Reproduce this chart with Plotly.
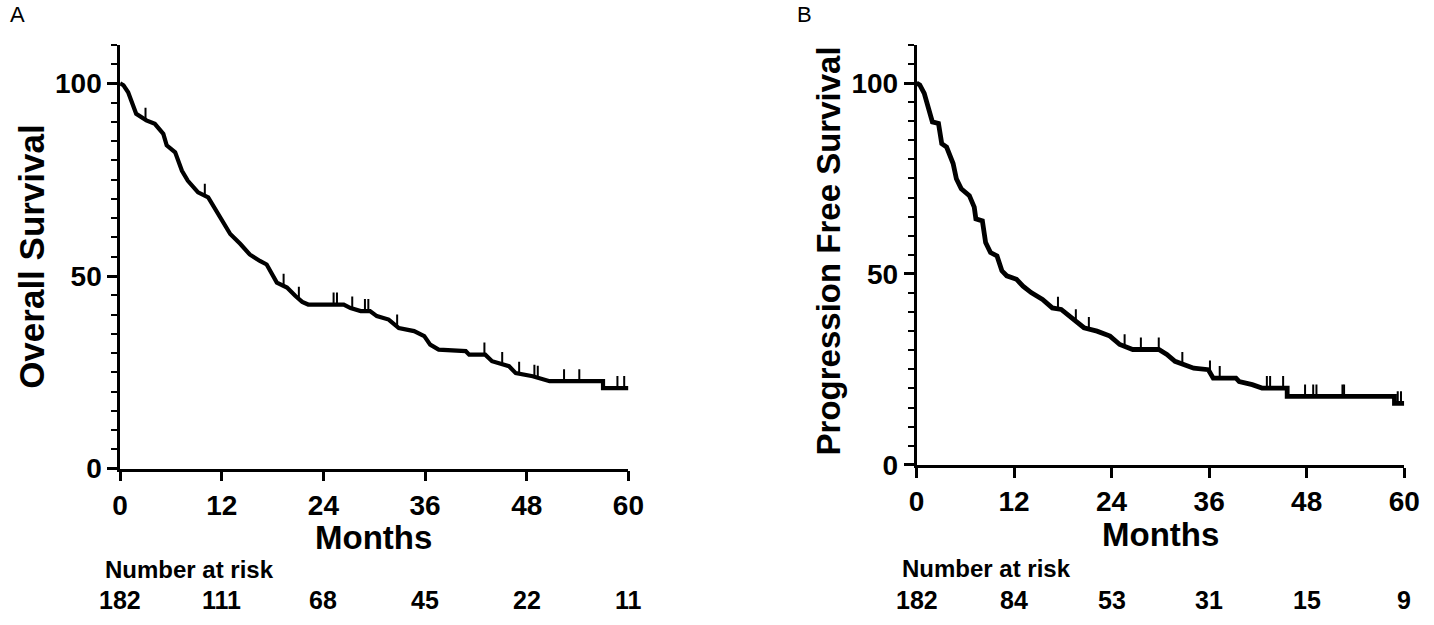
import numpy as np
import plotly.graph_objects as go

# ---------------- data ----------------
os_months = [0, 0.4, 0.95, 1.9, 3.1, 4.1, 5.1, 5.5, 6.5, 7.3, 8.0, 9.2, 10.4, 11.4, 12.4, 13.0,
             14.2, 15.3, 16.5, 17.3, 18.5, 19.7, 20.7, 21.5, 22.2, 26.4, 27.2, 28.4, 29.5, 30.3,
             31.7, 32.9, 34.7, 35.9, 36.6, 37.6, 40.8, 41.2, 43.1, 43.9, 45.9, 46.7, 48.7, 50.7,
             57.0, 57.0, 60.0]
os_surv = [100, 99.5, 97.7, 92.1, 90.4, 89.5, 86.9, 83.9, 82.1, 77.3, 74.7, 71.7, 70.4, 66.9, 63.4, 60.9,
           58.3, 55.6, 53.9, 53.0, 48.3, 47.0, 44.8, 43.3, 42.6, 42.6, 41.7, 40.9, 40.9, 39.6,
           38.7, 36.5, 35.7, 34.4, 32.2, 30.9, 30.5, 29.6, 29.6, 27.9, 26.6, 24.8, 24.0, 22.7,
           22.7, 20.9, 20.9]
os_censor = [3.0, 10.0, 19.3, 21.1, 25.2, 25.6, 27.4, 28.9, 29.3, 32.7, 43.0, 45.1, 47.1,
             48.9, 49.3, 52.4, 54.2, 58.7, 59.5]

pfs_months = [0, 0.4, 0.95, 1.35, 1.95, 2.7, 3.1, 3.7, 4.5, 4.9, 5.5, 6.5, 7.1, 7.3, 8.1, 8.5,
              9.1, 9.9, 10.5, 11.1, 12.3, 13.1, 14.1, 15.5, 16.7, 17.8, 19.2, 20.6, 22.2, 23.8,
              25.0, 26.6, 29.8, 30.8, 31.8, 32.9, 34.1, 35.9, 36.5, 39.3, 39.7, 41.3, 42.5,
              45.6, 45.6, 58.8, 58.8, 60.0]
pfs_surv = [100, 99.5, 97.3, 93.8, 89.8, 89.4, 84.1, 83.2, 78.9, 74.9, 72.3, 70.5, 67.5, 64.4, 63.9, 58.2,
            55.6, 54.7, 50.8, 49.5, 48.6, 46.8, 45.1, 43.3, 41.1, 40.7, 38.3, 35.9, 35.0, 33.7,
            31.5, 30.2, 30.2, 28.9, 27.1, 26.2, 25.3, 24.9, 22.7, 22.7, 21.8, 21.0, 20.1,
            20.1, 17.9, 17.9, 16.1, 16.1]
pfs_censor = [17.4, 19.6, 21.2, 25.6, 27.6, 29.8, 32.7, 36.1, 37.3, 43.1, 43.5, 45.1,
              47.8, 48.8, 49.2, 52.4, 52.6, 59.2, 59.6]

x_ticks = [0, 12, 24, 36, 48, 60]
y_ticks = [0, 50, 100]
os_at_risk = [182, 111, 68, 45, 22, 11]
pfs_at_risk = [182, 84, 53, 31, 15, 9]

# ---------------- layout helpers (pixel -> paper fraction) ----------------
W, H = 1434, 625
FONT = "Liberation Sans, Arial, sans-serif"


def fx(p):
    return min(max(p / W, 0.0), 1.0)


def fy(p):
    return min(max(1 - p / H, 0.0), 1.0)


# panel geometry in page pixels
A_X0, A_X1 = 114, 631
B_X0, B_X1 = 924, 1420
A_Y0, A_Y1 = 46, 481
B_Y0, B_Y1 = 46, 477

fig = go.Figure()


def add_panel(months, surv, censor, xa, ya, lw):
    fig.add_trace(go.Scatter(x=months, y=surv, mode="lines",
                             line=dict(color="black", width=lw),
                             xaxis=xa, yaxis=ya, showlegend=False, hoverinfo="skip"))
    cy = np.interp(censor, months, surv) + 1.5
    fig.add_trace(go.Scatter(x=censor, y=cy, mode="markers",
                             marker=dict(symbol="line-ns", size=9,
                                         line=dict(width=2, color="black")),
                             xaxis=xa, yaxis=ya, showlegend=False, hoverinfo="skip"))


add_panel(os_months, os_surv, os_censor, "x", "y", 4.2)
add_panel(pfs_months, pfs_surv, pfs_censor, "x2", "y2", 4.8)


def xax(dom, anchor):
    return dict(domain=dom, anchor=anchor, range=[0, 60], tickvals=x_ticks,
                ticks="outside", ticklen=10, tickwidth=2.5, tickcolor="black",
                showline=True, linewidth=2.5, linecolor="black",
                showgrid=False, zeroline=False,
                tickfont=dict(family=FONT, size=28, color="black", weight="bold"))


def yax(dom, anchor):
    return dict(domain=dom, anchor=anchor, range=[0, 110], tickvals=y_ticks,
                ticks="outside", ticklen=10, tickwidth=2.5, tickcolor="black",
                minor=dict(ticks="outside", ticklen=6, tickwidth=2, tickcolor="black",
                           dtick=5, tick0=0, showgrid=False),
                showline=True, linewidth=2.5, linecolor="black",
                showgrid=False, zeroline=False,
                tickfont=dict(family=FONT, size=28, color="black", weight="bold"))


fig.update_layout(
    autosize=True,
    margin=dict(l=0, r=0, t=0, b=0, pad=0),
    paper_bgcolor="white", plot_bgcolor="white",
    xaxis=xax([fx(A_X0), fx(A_X1)], "y"),
    yaxis=yax([fy(A_Y1), fy(A_Y0)], "x"),
    xaxis2=xax([fx(B_X0), fx(B_X1)], "y2"),
    yaxis2=yax([fy(B_Y1), fy(B_Y0)], "x2"),
)

ann = []
title_font_a = dict(family=FONT, size=35, color="black", weight="bold")
title_font_b = dict(family=FONT, size=33, color="black", weight="bold")
months_font = dict(family=FONT, size=33, color="black", weight="bold")
ann.append(dict(text="Overall Survival", x=fx(24), y=fy(263), xref="paper", yref="paper",
                textangle=-90, showarrow=False, font=title_font_a, xanchor="center", yanchor="middle"))
ann.append(dict(text="Progression Free Survival", x=fx(834), y=fy(258), xref="paper", yref="paper",
                textangle=-90, showarrow=False, font=title_font_b, xanchor="center", yanchor="middle"))
ann.append(dict(text="Months", x=fx(372), y=fy(552), xref="paper", yref="paper",
                showarrow=False, font=months_font, xanchor="center", yanchor="middle"))
ann.append(dict(text="Months", x=fx(1172), y=fy(549), xref="paper", yref="paper",
                showarrow=False, font=months_font, xanchor="center", yanchor="middle"))

nar_font = dict(family=FONT, size=24, color="black", weight="bold")
risk_font = dict(family=FONT, size=25, color="black", weight="bold")
ann.append(dict(text="Number at risk", x=fx(97), y=fy(584), xref="paper", yref="paper",
                showarrow=False, font=nar_font, xanchor="left", yanchor="middle"))
ann.append(dict(text="Number at risk", x=fx(907), y=fy(583), xref="paper", yref="paper",
                showarrow=False, font=nar_font, xanchor="left", yanchor="middle"))
for t, n in zip(x_ticks, os_at_risk):
    ann.append(dict(text=str(n), x=t, y=fy(616), xref="x", yref="paper",
                    showarrow=False, font=risk_font, xanchor="center", yanchor="middle"))
for t, n in zip(x_ticks, pfs_at_risk):
    ann.append(dict(text=str(n), x=t, y=fy(616), xref="x2", yref="paper",
                    showarrow=False, font=risk_font, xanchor="center", yanchor="middle"))

panel_font = dict(family=FONT, size=22, color="black")
ann.append(dict(text="A", x=fx(0), y=fy(15), xref="paper", yref="paper",
                showarrow=False, font=panel_font, xanchor="left", yanchor="middle"))
ann.append(dict(text="B", x=fx(810), y=fy(15), xref="paper", yref="paper",
                showarrow=False, font=panel_font, xanchor="center", yanchor="middle"))

fig.update_layout(annotations=ann)
fig.write_html(
    "out.html",
    config={"displayModeBar": False, "responsive": True},
    default_width="100vw",
    default_height="100vh",
    post_script=(
        "document.documentElement.style.margin='0';"
        "document.documentElement.style.overflow='hidden';"
        "document.body.style.margin='0';document.body.style.overflow='hidden';"
        "Plotly.Plots.resize(document.getElementById('{plot_id}'));"
    ),
)
